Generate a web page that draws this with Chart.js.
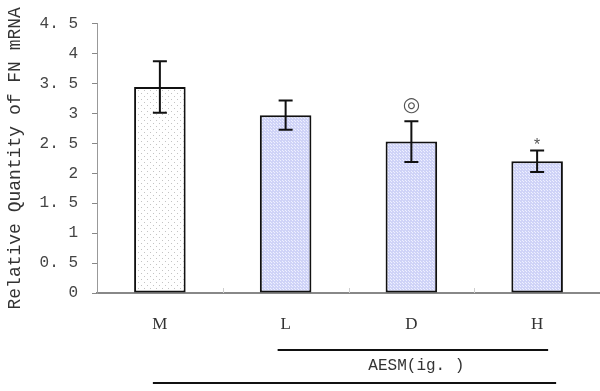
<!DOCTYPE html>
<html>
<head>
<meta charset="utf-8">
<script src="https://cdn.jsdelivr.net/npm/chart.js@4"></script>
<style>
  html, body { margin: 0; padding: 0; background: #fff; }
  #wrap { width: 600px; height: 391px; }
</style>
</head>
<body>
<div id="wrap"><canvas id="fnChart" width="600" height="391"></canvas></div>
<script>
// groups and measured values
const groups = ["M", "L", "D", "H"]
const means = [3.44, 2.97, 2.53, 2.2]
const errors = [0.43, 0.245, 0.34, 0.18]
const marks = ["", "", "◎", "*"]
const yTicks = [0, 0.5, 1, 1.5, 2, 2.5, 3, 3.5, 4, 4.5]
const groupLabel = "AESM(ig. )"

const makePattern = (base, dot, step) => {
  const c = document.createElement("canvas")
  c.width = step
  c.height = step
  const g = c.getContext("2d")
  g.fillStyle = base
  g.fillRect(0, 0, step, step)
  g.fillStyle = dot
  g.fillRect(0, 0, 1, 1)
  g.fillRect(Math.floor(step / 2), Math.floor(step / 2), 1, 1)
  return g.createPattern(c, "repeat")
}

const ctx = document.getElementById("fnChart").getContext("2d")
const whiteDots = makePattern("#ffffff", "#c4c4c4", 6)
const blueDots = makePattern("#cfd3f7", "#eef0ff", 3)

// error bars, significance marks and group lines
const extras = {
  id: "extras",
  afterDatasetsDraw(chart) {
    const c = chart.ctx
    const x = chart.scales.x
    const y = chart.scales.y
    c.save()
    // small inner ticks on x axis at category boundaries
    c.strokeStyle = "#cfcfcf"
    c.lineWidth = 1
    for (let i = 1; i < groups.length; i++) {
      const bx = Math.round((x.getPixelForValue(i - 1) + x.getPixelForValue(i)) / 2) + 0.5
      c.beginPath()
      c.moveTo(bx, y.bottom)
      c.lineTo(bx, y.bottom - 5)
      c.stroke()
    }
    c.strokeStyle = "#111"
    c.lineWidth = 2
    for (let i = 0; i < groups.length; i++) {
      const cx = x.getPixelForValue(i)
      const top = y.getPixelForValue(means[i] + errors[i])
      const bot = y.getPixelForValue(means[i] - errors[i])
      c.beginPath()
      c.moveTo(cx, top)
      c.lineTo(cx, bot)
      c.moveTo(cx - 7, top)
      c.lineTo(cx + 7, top)
      c.moveTo(cx - 7, bot)
      c.lineTo(cx + 7, bot)
      c.stroke()
      if (marks[i]) {
        c.fillStyle = "#555"
        c.textAlign = "center"
        c.textBaseline = "middle"
        c.font = marks[i] === "*" ? "16px 'Liberation Mono'" : "20px 'DejaVu Sans'"
        c.fillText(marks[i], cx, top - (marks[i] === "*" ? 5 : 15))
      }
    }
    // bracket lines under the axis
    const xL = x.getPixelForValue(1)
    const xM = x.getPixelForValue(0)
    const xH = x.getPixelForValue(3)
    c.strokeStyle = "#111"
    c.lineWidth = 2
    c.beginPath()
    c.moveTo(xL - 8, 350)
    c.lineTo(xH + 11, 350)
    c.moveTo(xM - 7, 383)
    c.lineTo(xH + 19, 383)
    c.stroke()
    c.fillStyle = "#333"
    c.font = "16px 'Liberation Mono'"
    c.textAlign = "center"
    c.textBaseline = "middle"
    c.fillText(groupLabel, (xL + xH) / 2 + 5, 366)
    c.restore()
  }
}

new Chart(ctx, {
  type: "bar",
  data: {
    labels: groups,
    datasets: [{
      data: means,
      backgroundColor: [whiteDots, blueDots, blueDots, blueDots],
      borderColor: "#111",
      borderWidth: 2,
      borderSkipped: false,
      barPercentage: 0.41,
      categoryPercentage: 1
    }]
  },
  options: {
    responsive: false,
    animation: false,
    layout: { padding: { top: 22, right: 0, left: 0, bottom: 0 } },
    plugins: { legend: { display: false }, tooltip: { enabled: false } },
    scales: {
      x: {
        grid: { display: false },
        border: { color: "#888", width: 2 },
        ticks: {
          color: "#333",
          padding: 13,
          font: { family: "Liberation Serif", size: 17 }
        },
        afterFit(s) { s.height = 98 }
      },
      y: {
        min: 0,
        max: 4.5,
        afterBuildTicks(s) { s.ticks = yTicks.map(v => ({ value: v })) },
        grid: { drawOnChartArea: false, tickLength: 5, color: "#888" },
        border: { color: "#999", width: 1 },
        ticks: {
          color: "#444",
          padding: 14,
          font: { family: "Liberation Mono", size: 16 },
          callback: v => String(v).replace(".", ". ")
        },
        title: {
          display: true,
          text: "Relative Quantity of FN mRNA",
          color: "#333",
          font: { family: "Liberation Mono", size: 18 },
          padding: { top: 4, bottom: 0 }
        },
        afterFit(s) { s.width = 97 }
      }
    }
  },
  plugins: [extras]
})
</script>
</body>
</html>
